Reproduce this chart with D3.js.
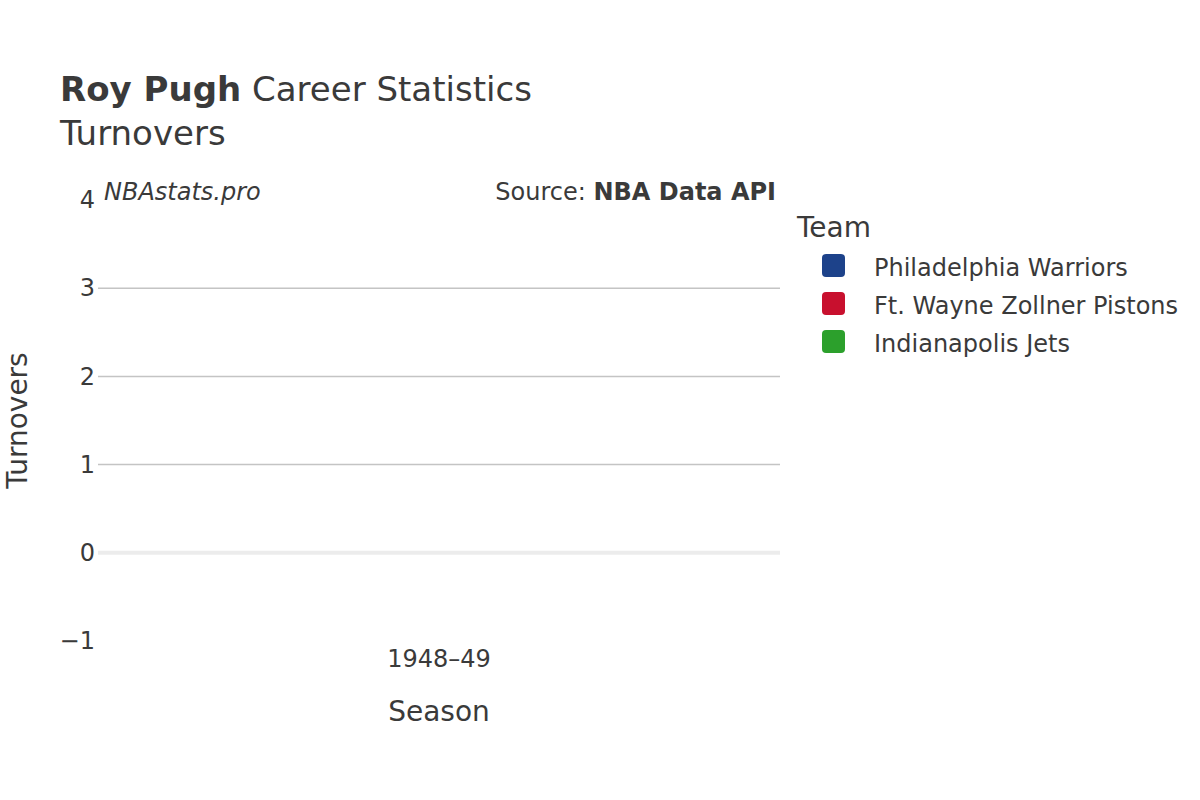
<!DOCTYPE html>
<html>
<head>
<meta charset="utf-8">
<script src="https://cdn.jsdelivr.net/npm/d3@7"></script>
<style>
  body { margin: 0; background: #fff; }
  text { font-family: "DejaVu Sans", sans-serif; fill: #3a3a3a; }
</style>
</head>
<body>
<div id="container"></div>
<script>
// data
const seasons = ['1948–49'];
const teams = ['Philadelphia Warriors', 'Ft. Wayne Zollner Pistons', 'Indianapolis Jets'];
const teamColors = ['#1d428a', '#c8102e', '#2ca02c'];
const turnovers = [
  { team: 'Philadelphia Warriors', season: '1948–49', value: 0 },
  { team: 'Ft. Wayne Zollner Pistons', season: '1948–49', value: 0 },
  { team: 'Indianapolis Jets', season: '1948–49', value: 0 }
];
const yTicks = [-1, 0, 1, 2, 3, 4];

const width = 1200;
const height = 800;
const plot = { left: 98, right: 780, top: 200, bottom: 641 };

const svg = d3.select('#container').append('svg')
  .attr('width', width)
  .attr('height', height);

// scales
const x = d3.scaleBand()
  .domain(seasons)
  .range([plot.left, plot.right])
  .paddingInner(0.2)
  .paddingOuter(0.1);

const xInner = d3.scaleBand()
  .domain(teams)
  .range([0, x.bandwidth()]);

const y = d3.scaleLinear()
  .domain([-1, 4])
  .range([plot.bottom, plot.top]);

const color = d3.scaleOrdinal().domain(teams).range(teamColors);

// gridlines
svg.append('g')
  .selectAll('line')
  .data(yTicks.filter(d => d > 0 && d < 4))
  .enter().append('line')
  .attr('x1', plot.left)
  .attr('x2', plot.right)
  .attr('y1', d => y(d))
  .attr('y2', d => y(d))
  .attr('stroke', '#c4c4c4')
  .attr('stroke-width', 1.5);

// zero line
svg.append('line')
  .attr('x1', plot.left)
  .attr('x2', plot.right)
  .attr('y1', y(0))
  .attr('y2', y(0))
  .attr('stroke', '#ececec')
  .attr('stroke-width', 4);

// y axis
const yAxis = d3.axisLeft(y).tickValues(yTicks).tickSize(0).tickPadding(3)
  .tickFormat(d => d < 0 ? '\u2212' + Math.abs(d) : d);
const yg = svg.append('g')
  .attr('transform', `translate(${plot.left}, 0)`)
  .call(yAxis);
yg.select('.domain').remove();
yg.selectAll('text').attr('font-size', 24).attr('fill', '#3a3a3a')
  .style('font-family', '"DejaVu Sans", sans-serif');

// x axis
const xAxis = d3.axisBottom(x).tickSize(0).tickPadding(0);
const xg = svg.append('g')
  .attr('transform', `translate(0, ${plot.bottom + 8})`)
  .call(xAxis);
xg.select('.domain').remove();
xg.selectAll('text').attr('font-size', 24).attr('fill', '#3a3a3a')
  .attr('dy', '0.75em')
  .style('font-family', '"DejaVu Sans", sans-serif');

// bars
svg.append('g')
  .selectAll('rect')
  .data(turnovers)
  .enter().append('rect')
  .attr('x', d => x(d.season) + xInner(d.team))
  .attr('width', xInner.bandwidth())
  .attr('y', d => Math.min(y(d.value), y(0)))
  .attr('height', d => Math.abs(y(d.value) - y(0)))
  .attr('fill', d => color(d.team));

// titles
const title = svg.append('text')
  .attr('x', 60)
  .attr('y', 101)
  .attr('font-size', 34);
title.append('tspan').attr('font-weight', 'bold').text('Roy Pugh');
title.append('tspan').text(' Career Statistics');

svg.append('text')
  .attr('x', 60)
  .attr('y', 145)
  .attr('font-size', 34)
  .text('Turnovers');

svg.append('text')
  .attr('x', 104)
  .attr('y', 200)
  .attr('font-size', 24)
  .attr('font-style', 'italic')
  .text('NBAstats.pro');

const source = svg.append('text')
  .attr('x', 776)
  .attr('y', 200)
  .attr('font-size', 24)
  .attr('text-anchor', 'end');
source.append('tspan').text('Source: ');
source.append('tspan').attr('font-weight', 'bold').text('NBA Data API');

// axis titles
svg.append('text')
  .attr('x', (plot.left + plot.right) / 2)
  .attr('y', 721)
  .attr('text-anchor', 'middle')
  .attr('font-size', 28)
  .text('Season');

svg.append('text')
  .attr('transform', `translate(27, ${y(1.5)}) rotate(-90)`)
  .attr('text-anchor', 'middle')
  .attr('font-size', 28)
  .text('Turnovers');

// legend
const legend = svg.append('g').attr('transform', 'translate(797, 0)');
legend.append('text')
  .attr('x', 0)
  .attr('y', 237)
  .attr('font-size', 28)
  .text('Team');

const items = legend.selectAll('g.item')
  .data(teams)
  .enter().append('g')
  .attr('class', 'item')
  .attr('transform', (d, i) => `translate(0, ${265 + i * 38})`);

items.append('rect')
  .attr('x', 25)
  .attr('y', -11)
  .attr('width', 23)
  .attr('height', 23)
  .attr('rx', 4)
  .attr('fill', d => color(d));

items.append('text')
  .attr('x', 77)
  .attr('y', 10.5)
  .attr('font-size', 24)
  .text(d => d);
</script>
</body>
</html>
